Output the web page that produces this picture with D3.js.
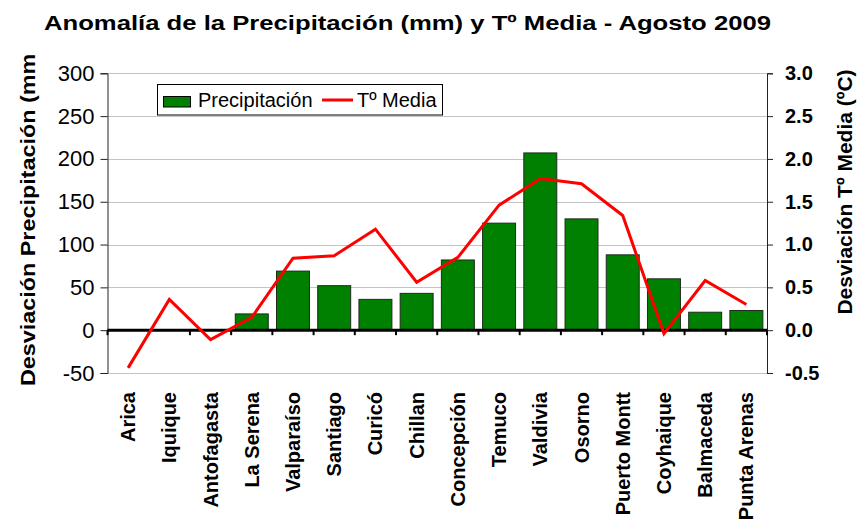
<!DOCTYPE html>
<meta charset="utf-8">
<script src="https://d3js.org/d3.v7.min.js"></script>
<style>
  body { margin: 0; background: #fff; }
  svg text { font-family: Arial, "Liberation Sans", sans-serif; fill: #000; }
</style>
<body>
<div id="chart"></div>
<script>
// stations, north to south
var stations = ["Arica", "Iquique", "Antofagasta", "La Serena", "Valparaíso", "Santiago",
  "Curicó", "Chillan", "Concepción", "Temuco", "Valdivia", "Osorno", "Puerto Montt",
  "Coyhaique", "Balmaceda", "Punta Arenas"];
// precipitation anomaly (mm)
var precip = [0, 0, 0, 19, 69, 52, 36, 43, 82, 125, 207, 130, 88, 60, 21, 23];
// mean temperature anomaly (ºC)
var tmedia = [-0.44, 0.36, -0.11, 0.15, 0.84, 0.87, 1.18, 0.56, 0.85, 1.46, 1.77, 1.71, 1.34, -0.04, 0.58, 0.30];
var leftTicks = [-50, 0, 50, 100, 150, 200, 250, 300];
var rightTicks = [-0.5, 0, 0.5, 1, 1.5, 2, 2.5, 3];

var W = 859, H = 519;
var svg = d3.select("#chart").append("svg")
    .attr("width", W)
    .attr("height", H);

var x = d3.scaleBand()
    .domain(stations)
    .range([107.5, 767])
    .paddingInner(0.2)
    .paddingOuter(0.1);

var yL = d3.scaleLinear().domain([-50, 300]).range([373, 73.3]);
var yR = d3.scaleLinear().domain([-0.5, 3]).range([373, 73.3]);

// Title
svg.append("text")
    .attr("x", 44)
    .attr("y", 30)
    .attr("textLength", 727)
    .attr("lengthAdjust", "spacingAndGlyphs")
    .style("font-size", "21px")
    .style("font-weight", "bold")
    .text("Anomalía de la Precipitación (mm) y Tº Media - Agosto 2009");

// gridlines
svg.append("g")
  .selectAll("line")
  .data(leftTicks)
  .join("line")
    .attr("x1", 107.5)
    .attr("x2", 767)
    .attr("y1", function(d) { return Math.round(yL(d)) + 0.5; })
    .attr("y2", function(d) { return Math.round(yL(d)) + 0.5; })
    .attr("stroke", "#c4c4c4")
    .attr("stroke-width", 1.2);

// bars
svg.append("g")
  .selectAll("rect")
  .data(stations)
  .join("rect")
    .filter(function(d, i) { return precip[i] > 0; })
    .attr("x", function(d) { return x(d); })
    .attr("width", x.bandwidth())
    .attr("y", function(d) { return yL(precip[stations.indexOf(d)]); })
    .attr("height", function(d) { return yL(0) - yL(precip[stations.indexOf(d)]); })
    .attr("fill", "#008000")
    .attr("stroke", "#1e2a1e")
    .attr("stroke-width", 1);

// left axis
var axL = svg.append("g")
    .attr("transform", "translate(107.5,0)")
    .call(d3.axisLeft(yL).tickValues(leftTicks).tickSize(7).tickPadding(6)
      .tickFormat(function(d) { return String(d); }));
axL.select(".domain").attr("stroke", "#222");
axL.selectAll(".tick line").attr("stroke", "#222");
axL.selectAll("text")
    .style("font-size", "22px")
    .style("font-family", "Arial, 'Liberation Sans', sans-serif")
    .attr("fill", "#111");

// right axis
var axR = svg.append("g")
    .attr("transform", "translate(767,0)")
    .call(d3.axisRight(yR).tickValues(rightTicks).tickSize(6).tickPadding(12)
      .tickFormat(function(d) { return d.toFixed(1); }));
axR.select(".domain").attr("stroke", "#222");
axR.selectAll(".tick line").attr("stroke", "#222");
axR.selectAll("text")
    .style("font-size", "20px")
    .style("font-weight", "bold")
    .style("font-family", "Arial, 'Liberation Sans', sans-serif")
    .attr("fill", "#111");

// zero line with category ticks
var step = x.step();
var bounds = d3.range(stations.length + 1).map(function(i) { return 107.5 + i * step; });
svg.append("g")
  .selectAll("line")
  .data(bounds)
  .join("line")
    .attr("x1", function(d) { return d; })
    .attr("x2", function(d) { return d; })
    .attr("y1", yL(0))
    .attr("y2", yL(0) + 5)
    .attr("stroke", "#000")
    .attr("stroke-width", 2);
svg.append("line")
    .attr("x1", 107.5)
    .attr("x2", 767)
    .attr("y1", yL(0))
    .attr("y2", yL(0))
    .attr("stroke", "#000")
    .attr("stroke-width", 3);

// temperature line
var line = d3.line()
    .x(function(d, i) { return x(stations[i]) + x.bandwidth() / 2; })
    .y(function(d) { return yR(d); });
svg.append("path")
    .datum(tmedia)
    .attr("d", line)
    .attr("fill", "none")
    .attr("stroke", "#ff0000")
    .attr("stroke-width", 3)
    .attr("stroke-linejoin", "miter");

// category labels
svg.append("g")
  .selectAll("text")
  .data(stations)
  .join("text")
    .attr("transform", function(d) {
      return "translate(" + (x(d) + x.bandwidth() / 2 + 7) + ",392) rotate(-90)";
    })
    .attr("text-anchor", "end")
    .style("font-size", "20px")
    .style("font-weight", "bold")
    .text(function(d) { return d; });

// axis titles (left one is cut at the top like the original)
svg.append("clipPath").attr("id", "topclip")
  .append("rect").attr("x", 0).attr("y", 54).attr("width", 100).attr("height", 400);
svg.append("g")
    .attr("clip-path", "url(#topclip)")
  .append("text")
    .attr("transform", "translate(35,386) rotate(-90)")
    .attr("textLength", 340)
    .attr("lengthAdjust", "spacingAndGlyphs")
    .style("font-size", "21px")
    .style("font-weight", "bold")
    .text("Desviación Precipitación (mm)");

svg.append("text")
    .attr("transform", "translate(852,192) rotate(-90)")
    .attr("text-anchor", "middle")
    .style("font-size", "21px")
    .style("font-weight", "bold")
    .text("Desviación Tº Media (ºC)");

// legend
var lg = svg.append("g");
lg.append("rect")
    .attr("x", 157.5).attr("y", 84.5)
    .attr("width", 285).attr("height", 30.5)
    .attr("fill", "#fff").attr("stroke", "#000");
lg.append("rect")
    .attr("x", 163.5).attr("y", 96.5)
    .attr("width", 27).attr("height", 10.5)
    .attr("fill", "#008000").attr("stroke", "#000");
lg.append("text")
    .attr("x", 198).attr("y", 107)
    .style("font-size", "20px")
    .text("Precipitación");
lg.append("line")
    .attr("x1", 322).attr("x2", 353)
    .attr("y1", 100).attr("y2", 100)
    .attr("stroke", "#ff0000").attr("stroke-width", 3);
lg.append("text")
    .attr("x", 357).attr("y", 107)
    .style("font-size", "20px")
    .text("Tº Media");
</script>
</body>
</html>
